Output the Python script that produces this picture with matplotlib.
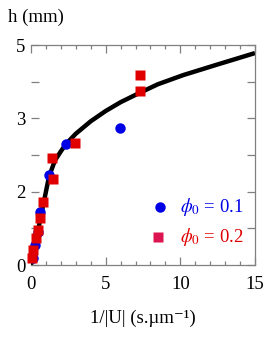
import matplotlib
matplotlib.use("Agg")
import matplotlib.pyplot as plt
from matplotlib.ticker import FixedLocator

# ---- data (y in axis tick units) ----
blue_x = [0.13, 0.27, 0.47, 0.6, 1.2, 2.34, 5.96]
blue_y = [0.19, 0.55, 0.9, 1.45, 2.45, 3.3, 3.74]

red_x = [0.07, 0.13, 0.33, 0.47, 0.6, 0.8, 1.47, 1.41, 2.95, 7.3, 7.3]
red_y = [0.19, 0.41, 0.74, 0.95, 1.28, 1.72, 2.35, 2.92, 3.33, 4.75, 5.18]

fit_x = [0, 0.3, 0.6, 0.9, 1.2, 1.6, 2.0, 2.34, 3.0, 4.0, 5.0, 6.0, 7.3, 8.5, 10.2, 12.5, 15.0]
fit_y = [0, 0.6, 1.2, 1.8, 2.4, 2.85, 3.1, 3.3, 3.58, 3.92, 4.2, 4.44, 4.7, 4.93, 5.18, 5.47, 5.78]

ytick_pos = [0, 1, 2, 3, 4, 5, 6]
ytick_lab = ['0', '', '2', '', '3', '', '5']
xtick_major = [0, 5, 10, 15]
xtick_lab = ['0', '5', '10', '15']

plt.rcParams['font.family'] = ['Liberation Serif', 'DejaVu Serif']
plt.rcParams['mathtext.fontset'] = 'stix'

fig = plt.figure(figsize=(2.73, 3.39), dpi=100)
ax = fig.add_axes([31/273, 1-265/339, 224/273, 220/339])

ax.plot(fit_x, fit_y, color='black', lw=3.2, solid_capstyle='butt', zorder=2)
ax.plot(blue_x, blue_y, 'o', color='#0000e6', ms=7.5, mec='none', clip_on=False, zorder=3)
ax.plot(red_x, red_y, 's', color='#e00000', ms=7.8, mec='none', clip_on=False, zorder=4)

ax.set_xlim(0, 15)
ax.set_ylim(0, 6)

gray = '#808080'
for s in ['top', 'right', 'bottom']:
    ax.spines[s].set_color(gray)
    ax.spines[s].set_linewidth(0.9)
ax.spines['left'].set_visible(False)

ax.xaxis.set_major_locator(FixedLocator(xtick_major))
ax.set_xticklabels(xtick_lab)
ax.xaxis.set_minor_locator(FixedLocator([i for i in range(16) if i % 5]))
ax.yaxis.set_major_locator(FixedLocator(ytick_pos))
ax.set_yticklabels(ytick_lab)

ax.tick_params(axis='x', which='both', direction='in', top=True, bottom=True,
               color=gray, width=0.9, labelsize=13.5, pad=8)
ax.tick_params(axis='x', which='major', length=5.5)
ax.tick_params(axis='x', which='minor', length=3)
ax.tick_params(axis='y', which='major', direction='in', left=True, right=True,
               color=gray, width=0.9, length=5.5, labelsize=13.5, pad=4)

ax.text(-0.103, 1.125, 'h (mm)', transform=ax.transAxes, fontsize=13.5, ha='left', va='center')
ax.set_xlabel('1/|U| (s.\u00b5m\u207b\u00b9)', fontsize=13.5, labelpad=12)

# legend
ax.plot([8.64], [1.58], 'o', color='#0000e6', ms=7.5, mec='none')
ax.text(10.0, 1.58, r'$\phi_{\mathrm{0}}$ = 0.1', color='#0000e6', fontsize=13.5, va='center', ha='left')
ax.plot([8.5], [0.76], 's', color='#dc1450', ms=7.5, mec='none')
ax.text(10.0, 0.76, r'$\phi_{\mathrm{0}}$ = 0.2', color='#e00000', fontsize=13.5, va='center', ha='left')

fig.savefig('out.png', dpi=100)
